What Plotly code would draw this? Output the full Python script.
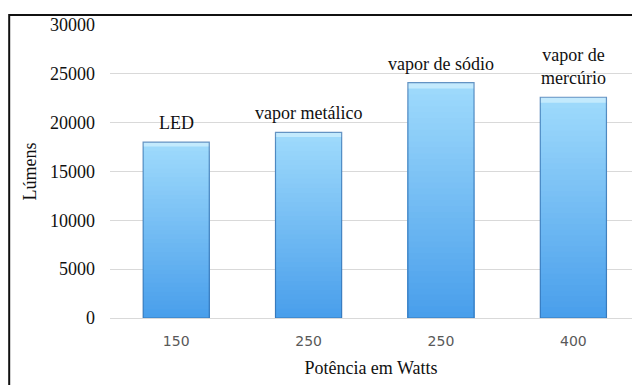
import plotly.graph_objects as go

# Potência (W) das luminárias, fluxo luminoso (lm) e tipo de lâmpada
potencia = ["150", "250", "250", "400"]
lumens = [18000, 19000, 24100, 22600]
tipos = ["LED", "vapor metálico", "vapor de sódio", "vapor de<br>mercúrio"]

pos = list(range(len(potencia)))

# Vertical gradient fill: nested bars from the full value downwards, each one
# shorter and darker, all starting at zero so no seams appear between bands
N_SLICES = 40
COR_TOPO = (160, 219, 252)
COR_BASE = (72, 158, 235)
COR_BISEL = (195, 234, 253)

SERIF = "Liberation Serif, Times New Roman, serif"
SANS = "DejaVu Sans, Verdana, sans-serif"

fig = go.Figure()
for k in range(N_SLICES):
    frac = (N_SLICES - k) / N_SLICES
    if k == 0:
        cor = COR_BISEL
    else:
        f = (N_SLICES - k - 0.5) / N_SLICES
        cor = tuple(round(b + (t - b) * f) for t, b in zip(COR_TOPO, COR_BASE))
    fig.add_trace(go.Bar(
        x=pos,
        y=[v * frac for v in lumens],
        width=0.5,
        marker=dict(color="rgb(%d,%d,%d)" % cor, line=dict(width=0)),
        hoverinfo="skip",
        showlegend=False,
    ))

# Bar outline
fig.add_trace(go.Bar(
    x=pos,
    y=lumens,
    width=0.5,
    marker=dict(color="rgba(0,0,0,0)",
                line=dict(color="rgba(45,105,170,0.7)", width=1.2)),
    showlegend=False,
    hovertemplate="%{y} lm<extra></extra>",
))

# Lamp type written above each bar
for p, v, t in zip(pos, lumens, tipos):
    fig.add_annotation(
        x=p, y=v, text=t, showarrow=False,
        xanchor="center", yanchor="bottom", yshift=7,
        font=dict(family=SERIF, size=18, color="#111111"),
    )

# Frame around the chart
fig.add_shape(
    type="rect", xref="paper", yref="paper",
    x0=-0.1931, x1=1.2, y0=-0.6, y1=1.0341,
    line=dict(color="#111111", width=2), fillcolor="rgba(0,0,0,0)",
    layer="above",
)

fig.update_layout(
    width=632, height=385,
    margin=dict(l=110, r=0, t=25, b=67),
    paper_bgcolor="white", plot_bgcolor="white",
    barmode="overlay",
    xaxis=dict(
        range=[-0.5, 3.443],
        tickvals=pos, ticktext=potencia,
        showgrid=False, zeroline=False, showline=False, ticks="",
        tickfont=dict(family=SANS, size=14, color="#595959"),
        ticklabelstandoff=13,
        title=dict(text="Potência em Watts", standoff=13,
                   font=dict(family=SERIF, size=18, color="#111111")),
        automargin=False,
    ),
    yaxis=dict(
        range=[0, 30000], dtick=5000, tickformat="d",
        showgrid=True, gridcolor="#d9d9d9", gridwidth=1,
        zeroline=True, zerolinecolor="#d9d9d9", zerolinewidth=1,
        showline=False, ticks="",
        tickfont=dict(family=SERIF, size=18, color="#111111"),
        ticklabelstandoff=14,
        title=dict(text="Lúmens", standoff=8,
                   font=dict(family=SERIF, size=18, color="#111111")),
        automargin=False,
    ),
)

fig.write_html("out.html")
